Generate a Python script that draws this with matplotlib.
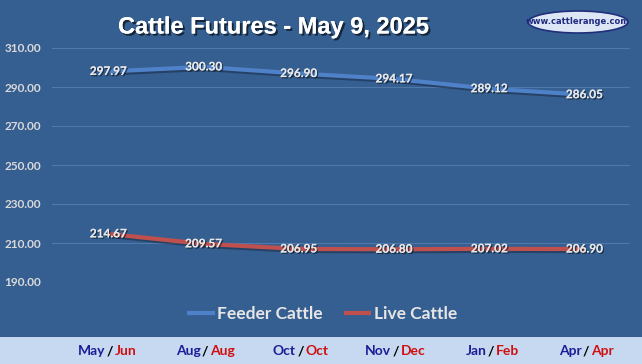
import numpy as np
import matplotlib
matplotlib.use('Agg')
import matplotlib.pyplot as plt
import matplotlib.patheffects as pe
from matplotlib.patches import Ellipse, Rectangle
from matplotlib.transforms import blended_transform_factory

# Data
feeder_months = ['May', 'Aug', 'Oct', 'Nov', 'Jan', 'Apr']
live_months = ['Jun', 'Aug', 'Oct', 'Dec', 'Feb', 'Apr']
feeder = [297.97, 300.30, 296.90, 294.17, 289.12, 286.05]
live = [214.67, 209.57, 206.95, 206.80, 207.02, 206.90]
yticks = [190, 210, 230, 250, 270, 290, 310]

bg = '#365F91'
W, H = 642, 364
fig = plt.figure(figsize=(W / 100, H / 100), dpi=100, facecolor=bg)

ax = fig.add_axes([52 / W, 1 - 282 / H, 578 / W, 234 / H])
ax.set_facecolor(bg)
x = np.arange(len(feeder))
ax.set_xlim(-0.59, 5.48)
ax.set_ylim(190, 310)
ax.set_yticks(yticks)
ax.set_yticklabels([f'{v:.2f}' for v in yticks])
ax.tick_params(axis='y', length=0, pad=8, labelcolor='#D9D9D9', labelsize=8.5)
for lab in ax.get_yticklabels():
    lab.set_fontweight('bold')
    lab.set_family('Lato')
ax.set_xticks([])
ax.grid(axis='y', color='#5079AA', linewidth=0.8)
for s in ax.spines.values():
    s.set_visible(False)

shadow = [pe.SimpleLineShadow(offset=(1, -1.5), shadow_color='#1A2F4A', alpha=0.6), pe.Normal()]
ax.plot(x, feeder, color='#4F81C9', lw=3, label='Feeder Cattle', path_effects=shadow, solid_capstyle='butt')
ax.plot(x, live, color='#C0504D', lw=3, label='Live Cattle', path_effects=shadow, solid_capstyle='butt')

txt_fx = [pe.withSimplePatchShadow(offset=(1, -1), shadow_rgbFace='#102030', alpha=0.7), pe.Normal()]
for xi, v in zip(x, feeder):
    ax.text(xi, v, f'{v:.2f}', ha='center', va='center', color='#E6E6E6', fontsize=8.5,
            fontweight='bold', family='Lato', path_effects=txt_fx)
for xi, v in zip(x, live):
    ax.text(xi, v, f'{v:.2f}', ha='center', va='center', color='#E6E6E6', fontsize=8.5,
            fontweight='bold', family='Lato', path_effects=txt_fx)

leg = ax.legend(loc='center', bbox_to_anchor=(322 / W, 1 - 314 / H), bbox_transform=fig.transFigure,
                ncol=2, frameon=False, handlelength=1.6, handletextpad=0.15, columnspacing=1.2,
                prop={'family': 'Lato', 'weight': 'bold', 'size': 12.5})
for t in leg.get_texts():
    t.set_color('#E6E6E6')
for h in leg.get_lines():
    h.set_linewidth(3)
    h.set_path_effects([])

# title
fig.text(274 / W, 1 - 27 / H, 'Cattle Futures - May 9, 2025', ha='center', va='center', color='white',
         fontsize=17, fontweight='bold', family='Liberation Sans',
         path_effects=[pe.withSimplePatchShadow(offset=(1.5, -1.5), shadow_rgbFace='black', alpha=0.6), pe.Normal()])

# logo
fig.patches.append(Ellipse((578 / W, 1 - 22 / H), 100 / W, 22 / H, transform=fig.transFigure,
                           facecolor='#DCE6F4', edgecolor='#1F2F7A', lw=1.2))
fig.text(578 / W, 1 - 22 / H, 'www.cattlerange.com', ha='center', va='center', color='#1F2A80',
         fontsize=6, fontweight='bold', family='Liberation Sans Narrow')

# bottom strip with month labels
fig.patches.append(Rectangle((0, 0), 1, 27 / H, transform=fig.transFigure, facecolor='#C6D9F1',
                             edgecolor='none', zorder=-1))
fig.add_artist(plt.Line2D([0, 1], [27 / H, 27 / H], transform=fig.transFigure, color='#2A4A75', lw=1,
                          zorder=-1))
tr = blended_transform_factory(ax.transData, fig.transFigure)
ty = 1 - 351 / H
for xi, m1, m2 in zip(x, feeder_months, live_months):
    fig.text(xi + 0.02, ty, '/', transform=tr, ha='center', va='center',
             color='black', fontsize=10, fontweight='bold', family='Lato')
    fig.text(xi - 0.03, ty, m1, transform=tr, ha='right', va='center', color='#1C1C96',
             fontsize=10, fontweight='bold', family='Lato')
    fig.text(xi + 0.07, ty, m2, transform=tr, ha='left', va='center', color='#D01010',
             fontsize=10, fontweight='bold', family='Lato')

fig.savefig('out.png', dpi=100, facecolor=bg)
